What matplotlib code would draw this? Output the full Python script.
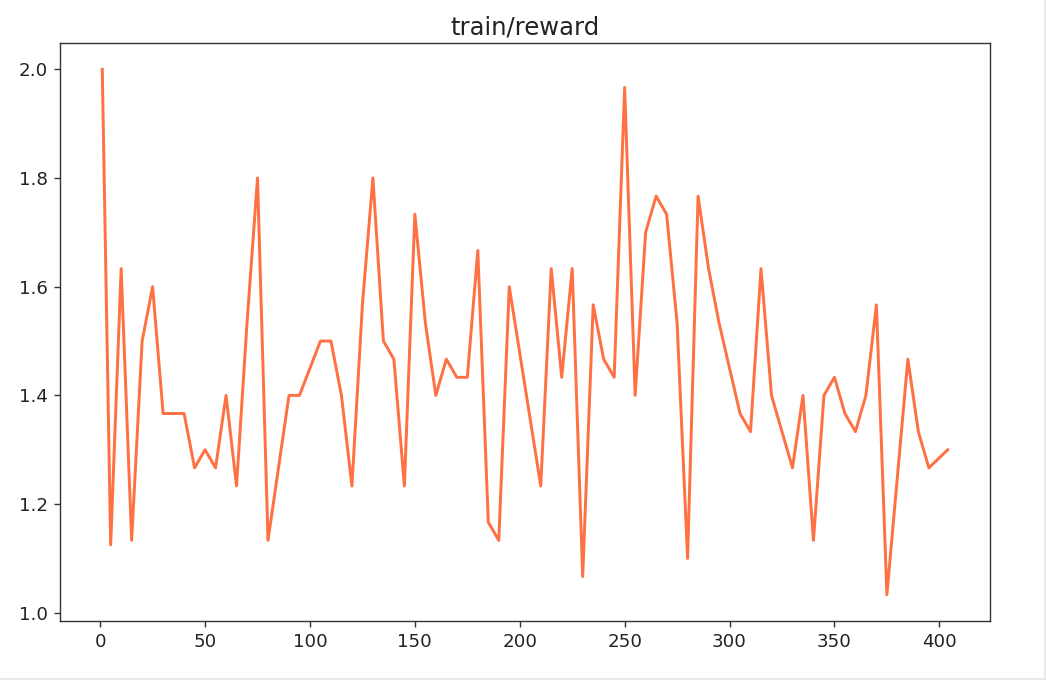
import matplotlib
matplotlib.use("Agg")
import matplotlib.pyplot as plt
from matplotlib.lines import Line2D

steps = [1, 5, 10, 15, 20, 25, 30, 35, 40, 45, 50, 55, 60, 65, 70, 75, 80, 85, 90, 95,
         100, 105, 110, 115, 120, 125, 130, 135, 140, 145, 150, 155, 160, 165, 170, 175,
         180, 185, 190, 195, 200, 205, 210, 215, 220, 225, 230, 235, 240, 245, 250, 255,
         260, 265, 270, 275, 280, 285, 290, 295, 300, 305, 310, 315, 320, 325, 330, 335,
         340, 345, 350, 355, 360, 365, 370, 375, 380, 385, 390, 395, 404]

reward = [2.0, 1.125, 1.6333, 1.1333, 1.5, 1.6, 1.3667, 1.3667, 1.3667, 1.2667,
          1.3, 1.2667, 1.4, 1.2333, 1.5333, 1.8, 1.1333, 1.2667, 1.4, 1.4,
          1.45, 1.5, 1.5, 1.4, 1.2333, 1.5667, 1.8, 1.5, 1.4667, 1.2333,
          1.7333, 1.5333, 1.4, 1.4667, 1.4333, 1.4333, 1.6667, 1.1667, 1.1333, 1.6,
          1.4778, 1.3556, 1.2333, 1.6333, 1.4333, 1.6333, 1.0667, 1.5667, 1.4667, 1.4333,
          1.9667, 1.4, 1.7, 1.7667, 1.7333, 1.5333, 1.1, 1.7667, 1.6333, 1.5333,
          1.45, 1.3667, 1.3333, 1.6333, 1.4, 1.3333, 1.2667, 1.4, 1.1333, 1.4,
          1.4333, 1.3667, 1.3333, 1.4, 1.5667, 1.0333, 1.25, 1.4667, 1.3333, 1.2667,
          1.3]

title = "train/reward"

DPI = 125
fig = plt.figure(figsize=(1046 / DPI, 680 / DPI), dpi=DPI, facecolor="white")
ax = fig.add_axes([60 / 1046, 1 - 621 / 680, (990 - 60) / 1046, (621 - 43) / 680])
ax.plot(steps, reward, color="#FF7043", linewidth=1.7)
ax.set_title(title, fontsize=14, color="#222222", pad=5)
ax.set_yticks([1.0, 1.2, 1.4, 1.6, 1.8, 2.0])
ax.set_xticks([0, 50, 100, 150, 200, 250, 300, 350, 400])
ax.tick_params(labelsize=10.5, labelcolor="#222222", color="#333333")
for sp in ax.spines.values():
    sp.set_color("#333333")

# faint screenshot border on right and bottom edges
fig.add_artist(Line2D([0.9995, 0.9995], [0, 1], transform=fig.transFigure, color="#e6e6e6", lw=1))
fig.add_artist(Line2D([0, 1], [0.0015, 0.0015], transform=fig.transFigure, color="#e6e6e6", lw=1))

fig.savefig("out.png", dpi=DPI, facecolor="white")
